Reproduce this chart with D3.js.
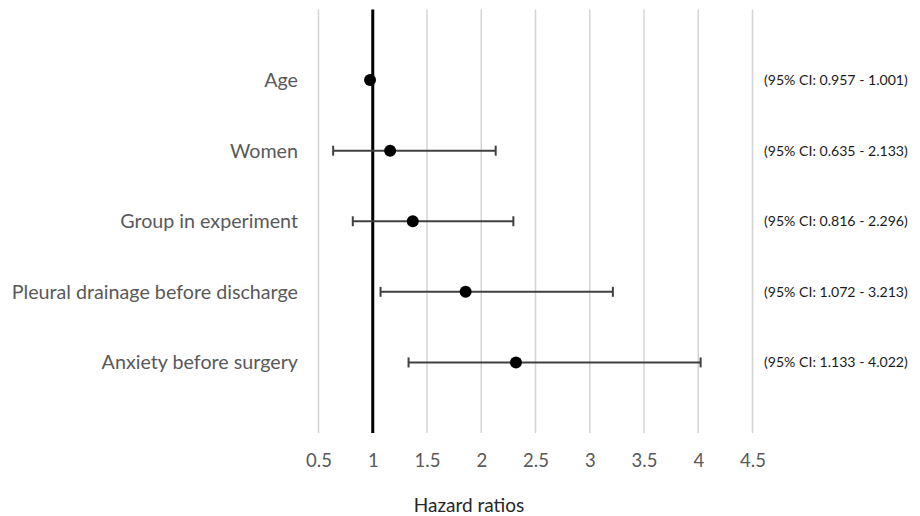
<!DOCTYPE html>
<html>
<head>
<meta charset="utf-8">
<script src="https://cdn.jsdelivr.net/npm/d3@7"></script>
<style>
  html, body { margin: 0; padding: 0; background: #fff; }
  svg { display: block; }
</style>
</head>
<body>
<svg id="chart" width="920" height="516"></svg>
<script>
const categories = ["Age", "Women", "Group in experiment", "Pleural drainage before discharge", "Anxiety before surgery"];
const estimates = [0.975, 1.16, 1.369, 1.856, 2.32];
const lowerCI = [0.957, 0.635, 0.816, 1.072, 1.33];
const upperCI = [1.001, 2.133, 2.296, 3.213, 4.022];
const ciLabels = ["(95% CI: 0.957 - 1.001)", "(95% CI: 0.635 - 2.133)", "(95% CI: 0.816 - 2.296)", "(95% CI: 1.072 - 3.213)", "(95% CI: 1.133 - 4.022)"];
const xTicks = [0.5, 1, 1.5, 2, 2.5, 3, 3.5, 4, 4.5];
const referenceValue = 1;
const xTitle = "Hazard ratios";

const svg = d3.select("#chart");
const x = d3.scaleLinear().domain([0.5, 4.5]).range([318.5, 752.5]);
const y = d3.scaleLinear().domain([0, categories.length + 1]).range([9.5, 433]);
const font = "Lato, 'Open Sans', sans-serif";

// gridlines
svg.append("g").selectAll("line").data(xTicks.filter(t => t !== referenceValue)).join("line")
  .attr("x1", d => x(d)).attr("x2", d => x(d))
  .attr("y1", y(0)).attr("y2", y(categories.length + 1))
  .attr("stroke", "#d4d4d4").attr("stroke-width", 1.5);

// reference line
svg.append("line")
  .attr("x1", x(referenceValue)).attr("x2", x(referenceValue))
  .attr("y1", y(0)).attr("y2", y(categories.length + 1))
  .attr("stroke", "#000").attr("stroke-width", 3);

// x axis tick labels
const xAxis = d3.axisBottom(x).tickValues(xTicks).tickSize(0).tickPadding(0).tickFormat(d3.format("~g"));
const gx = svg.append("g").attr("transform", "translate(0,467)").call(xAxis);
gx.select(".domain").remove();
gx.selectAll("text").attr("dy", 0).attr("font-family", font).attr("font-size", 18.5).attr("fill", "#595959");

// x title
svg.append("text").attr("x", 469).attr("y", 512).attr("text-anchor", "middle")
  .attr("font-family", font).attr("font-size", 19).attr("fill", "#262626").text(xTitle);

const rows = categories.map((c, i) => ({ c, i, est: estimates[i], lo: lowerCI[i], hi: upperCI[i], lab: ciLabels[i] }));

// category labels
svg.append("g").selectAll("text").data(rows).join("text")
  .attr("x", 298).attr("y", d => y(d.i + 1)).attr("dy", "0.35em")
  .attr("text-anchor", "end").attr("font-family", font).attr("font-size", 19.7).attr("fill", "#595959")
  .text(d => d.c);

// CI labels
svg.append("g").selectAll("text").data(rows).join("text")
  .attr("x", 764).attr("y", d => y(d.i + 1)).attr("dy", "0.35em")
  .attr("font-family", font).attr("font-size", 14.1).attr("fill", "#1a1a1a")
  .text(d => d.lab);

// error bars
const eb = svg.append("g").attr("stroke", "#404040").attr("stroke-width", 2);
eb.selectAll("line.h").data(rows).join("line").attr("class", "h")
  .attr("x1", d => x(d.lo)).attr("x2", d => x(d.hi))
  .attr("y1", d => y(d.i + 1)).attr("y2", d => y(d.i + 1));
eb.selectAll("line.l").data(rows).join("line").attr("class", "l")
  .attr("x1", d => x(d.lo)).attr("x2", d => x(d.lo))
  .attr("y1", d => y(d.i + 1) - 5).attr("y2", d => y(d.i + 1) + 5);
eb.selectAll("line.r").data(rows).join("line").attr("class", "r")
  .attr("x1", d => x(d.hi)).attr("x2", d => x(d.hi))
  .attr("y1", d => y(d.i + 1) - 5).attr("y2", d => y(d.i + 1) + 5);

// points
svg.append("g").selectAll("circle").data(rows).join("circle")
  .attr("cx", d => x(d.est)).attr("cy", d => y(d.i + 1)).attr("r", 6)
  .attr("fill", "#000");
</script>
</body>
</html>
